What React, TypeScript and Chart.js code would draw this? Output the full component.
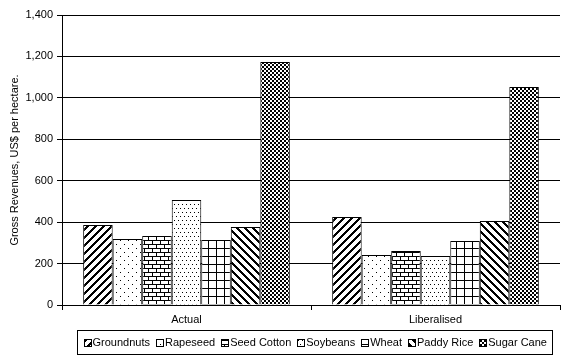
import React, { useEffect, useRef } from "react";
import { Chart, registerables } from "chart.js";

Chart.register(...registerables);

const categories = ["Actual", "Liberalised"];
const seriesNames = ["Groundnuts", "Rapeseed", "Seed Cotton", "Soybeans", "Wheat", "Paddy Rice", "Sugar Cane"];
const groundnuts = [386, 425];
const rapeseed = [319, 241];
const seedCotton = [333, 261];
const soybeans = [507, 237];
const wheat = [314, 309];
const paddyRice = [377, 405];
const sugarCane = [1173, 1052];
const yTicks = [0, 200, 400, 600, 800, 1000, 1200, 1400];

type Fn = (x: number, y: number) => boolean;

function makePattern(w: number, h: number, fn: Fn): CanvasPattern | string {
  const c = document.createElement("canvas");
  c.width = w;
  c.height = h;
  const ctx = c.getContext("2d");
  if (!ctx) return "#fff";
  const img = ctx.createImageData(w, h);
  for (let y = 0; y < h; y++) {
    for (let x = 0; x < w; x++) {
      const i = (y * w + x) * 4;
      const v = fn(x, y) ? 0 : 255;
      img.data[i] = v;
      img.data[i + 1] = v;
      img.data[i + 2] = v;
      img.data[i + 3] = 255;
    }
  }
  ctx.putImageData(img, 0, 0);
  const p = ctx.createPattern(c, "repeat");
  return p || "#fff";
}

function patterns() {
  return [
    makePattern(8, 8, (x, y) => (x + y) % 8 < 3),
    makePattern(8, 8, (x, y) => (x === 0 && y === 0) || (x === 4 && y === 4)),
    makePattern(8, 8, (x, y) => y === 0 || y === 4 || (x === 0 && y < 4) || (x === 4 && y > 4)),
    makePattern(4, 8, (x, y) => (x === 0 && y === 0) || (x === 2 && y === 4)),
    makePattern(8, 8, (x, y) => x === 0 || y === 0),
    makePattern(8, 8, (x, y) => (((x - y) % 8) + 8) % 8 < 3),
    makePattern(4, 4, (x, y) => (Math.floor(x / 2) + Math.floor(y / 2)) % 2 === 0),
  ];
}

const FONT = "'Liberation Sans', Arial, sans-serif";

// Custom boxed legend drawn under the x axis, centred on the plot area
const boxedLegend = {
  id: "boxedLegend",
  afterDraw(chart: any) {
    const ctx = chart.ctx;
    const ds = chart.data.datasets;
    const BOX = 7;
    const GAP = 2;
    const SEP = 6;
    const MARGIN = 6;
    ctx.save();
    ctx.font = "11px " + FONT;
    const widths = ds.map((d: any) => ctx.measureText(d.label).width);
    const total = widths.reduce((a: number, w: number) => a + BOX + GAP + w, 0) + SEP * (ds.length - 1);
    const cx = (chart.chartArea.left + chart.chartArea.right) / 2 + 4;
    const top = chart.scales.x.bottom + 0.5;
    const h = 24;
    const left = Math.round(cx - total / 2 - MARGIN) + 0.5;
    ctx.strokeStyle = "#000";
    ctx.lineWidth = 1;
    ctx.strokeRect(left, Math.round(top) + 0.5, Math.round(total + 2 * MARGIN), h);
    const midY = Math.round(top) + 0.5 + h / 2;
    let x = left + MARGIN;
    ds.forEach((d: any, i: number) => {
      const bx = Math.round(x) + 0.5;
      const by = Math.round(midY - BOX / 2) + 0.5;
      ctx.fillStyle = d.backgroundColor;
      ctx.fillRect(bx, by, BOX, BOX);
      ctx.strokeStyle = "#000";
      ctx.strokeRect(bx, by, BOX, BOX);
      ctx.fillStyle = "#000";
      ctx.textBaseline = "middle";
      ctx.textAlign = "left";
      ctx.fillText(d.label, x + BOX + GAP, midY + 0.5);
      x += BOX + GAP + widths[i] + SEP;
    });
    ctx.restore();
  },
};

export default function App() {
  const ref = useRef<HTMLCanvasElement>(null);
  useEffect(() => {
    if (!ref.current) return;
    const pats = patterns();
    const values = [groundnuts, rapeseed, seedCotton, soybeans, wheat, paddyRice, sugarCane];
    const chart = new Chart(ref.current, {
      type: "bar",
      data: {
        labels: categories,
        datasets: seriesNames.map((name, i) => ({
          label: name,
          data: values[i],
          backgroundColor: pats[i] as any,
          borderColor: "#000",
          borderWidth: 1,
          categoryPercentage: 0.83,
          barPercentage: 1,
        })),
      },
      options: {
        responsive: false,
        animation: false,
        devicePixelRatio: 1,
        layout: { padding: { top: 15, right: 7, left: 0, bottom: 31 } },
        plugins: {
          tooltip: { enabled: false },
          legend: { display: false },
        },
        scales: {
          x: {
            grid: { offset: true, drawOnChartArea: false, color: "#000", tickLength: 5 },
            border: { color: "#000" },
            ticks: { color: "#000", font: { family: FONT, size: 11 }, maxRotation: 0 },
            afterFit: (s: any) => { s.height = 24; },
          },
          y: {
            min: 0,
            max: 1400,
            afterBuildTicks: (s: any) => { s.ticks = yTicks.map((v) => ({ value: v })); },
            ticks: {
              color: "#000",
              font: { family: FONT, size: 11 },
              padding: 4,
              callback: (v: any) => Number(v).toLocaleString("en-US"),
            },
            grid: { color: "#000", tickLength: 5 },
            border: { color: "#000" },
            title: {
              display: true,
              text: "Gross Revenues, US$ per hectare.",
              color: "#000",
              font: { family: FONT, size: 11 },
              padding: { top: 8, bottom: 0 },
            },
            afterFit: (s: any) => { s.width = 62; },
          },
        },
      },
      plugins: [boxedLegend],
    });
    return () => chart.destroy();
  }, []);
  return (
    <div style={{ position: "fixed", left: 0, top: 0, width: 567, height: 360, background: "#fff" }}>
      <canvas ref={ref} width={567} height={360} style={{ width: 567, height: 360 }} />
    </div>
  );
}
